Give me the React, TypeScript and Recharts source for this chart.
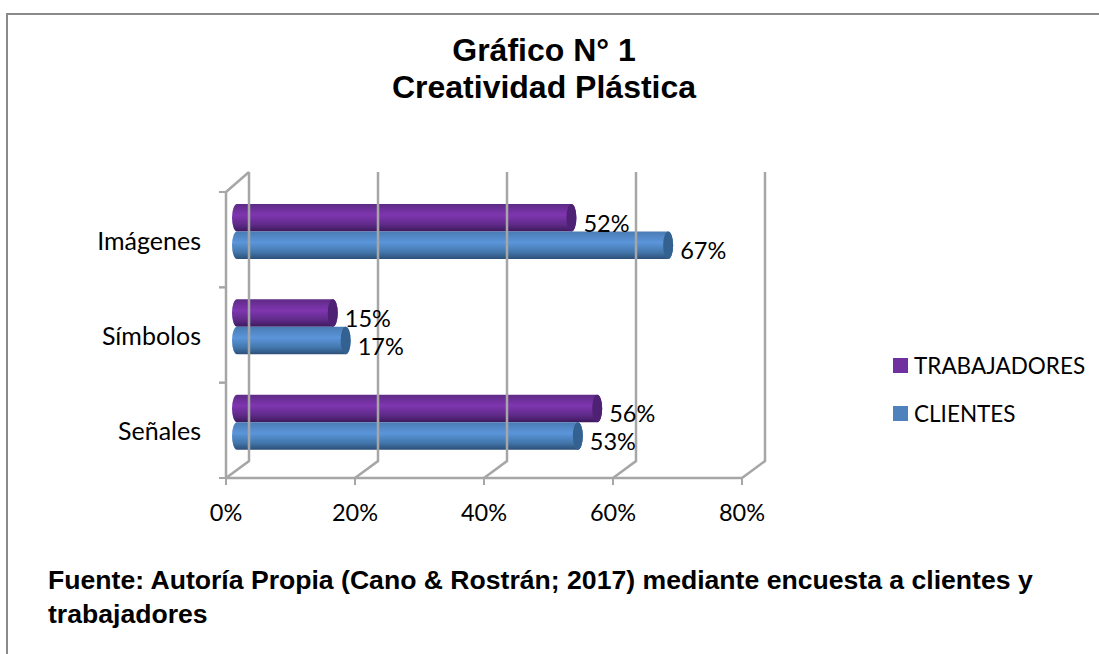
import React from 'react';
import { BarChart, Bar, XAxis, YAxis, Legend, LabelList } from 'recharts';

const categories = ['Imágenes', 'Símbolos', 'Señales'];
const trabajadores = [52, 15, 56];
const clientes = [67, 17, 53];
const xTicks = [0, 20, 40, 60, 80];

const data = categories.map((name, i) => ({
  name,
  TRABAJADORES: trabajadores[i],
  CLIENTES: clientes[i]
}));

const GRID = '#a6a6a6';
const LABEL_FONT = 'Lato, sans-serif';
const HEAD_FONT = '"Liberation Sans", Arial, sans-serif';
const BAND = 286 / 3;

// the fake 3d: back wall sits up and right of the front axis, bars sit half way in
const DEPTH_X = 23;
const DEPTH_Y = 17;
const BAR_DX = 6;
const BAR_DY = -8;
const CAP = 9;

const XTick = (props: any) => {
  const { x, y, payload } = props;
  return (
    <g>
      <line x1={x} y1={y} x2={x} y2={y + 7} stroke={GRID} strokeWidth={2} />
      <polyline
        points={`${x},${y} ${x + DEPTH_X},${y - DEPTH_Y} ${x + DEPTH_X},${192 - 20}`}
        fill="none"
        stroke={GRID}
        strokeWidth={2.5}
      />
      <text x={x} y={y + 43} textAnchor="middle" fontFamily={LABEL_FONT} fontSize={23.5} fill="#000">
        {payload.value}%
      </text>
    </g>
  );
};

const YTick = (props: any) => {
  const { x, y, payload, index } = props;
  return (
    <g>
      <line x1={x - 7} y1={y - BAND / 2} x2={x} y2={y - BAND / 2} stroke={GRID} strokeWidth={2} />
      <line x1={x - 7} y1={y + BAND / 2} x2={x} y2={y + BAND / 2} stroke={GRID} strokeWidth={2} />
      {index === 0 && (
        <line x1={x} y1={y - BAND / 2} x2={x + DEPTH_X} y2={y - BAND / 2 - 20} stroke={GRID} strokeWidth={2.5} />
      )}
      <text x={x - 25} y={y + 10} textAnchor="end" fontFamily={LABEL_FONT} fontSize={25} fill="#000">
        {payload.value}
      </text>
    </g>
  );
};

const Cylinder = (props: any) => {
  const { x, y, width, height, gradient, capColor } = props;
  const left = x + BAR_DX;
  const top = y + BAR_DY;
  const right = left + width + CAP;
  const rx = 5;
  const ry = height / 2;
  const body = `M${left + rx},${top} L${right - rx},${top} A${rx},${ry} 0 0 1 ${right - rx},${top + height} L${left + rx},${top + height} A${rx},${ry} 0 0 1 ${left + rx},${top} Z`;
  return (
    <g>
      <path d={body} fill={`url(#${gradient})`} />
      <ellipse cx={right - rx} cy={top + ry} rx={rx} ry={ry} fill={capColor} />
    </g>
  );
};

const BarValue = (props: any) => {
  const { x, y, width, height, value } = props;
  return (
    <text
      x={x + BAR_DX + width + CAP + 7}
      y={y + BAR_DY + height / 2 + 14}
      fontFamily={LABEL_FONT}
      fontSize={23.5}
      fill="#000"
    >
      {value}%
    </text>
  );
};

const LegendBox = (props: any) => (
  <div>
    {props.payload.map((p: any) => (
      <div key={p.value} style={{ display: 'flex', alignItems: 'center', height: 48, fontFamily: LABEL_FONT, fontSize: 22.5, color: '#000' }}>
        <span style={{ width: 15, height: 15, background: p.color, marginRight: 6 }} />
        {p.value}
      </div>
    ))}
  </div>
);

const App: React.FC = () => (
  <div style={{ position: 'absolute', left: 0, top: 0, width: 1099, height: 654, overflow: 'hidden', background: '#fff' }}>
    <div style={{ position: 'absolute', left: 6, top: 13, right: 0, bottom: 0, borderLeft: '2px solid #8a8a8a', borderTop: '2px solid #8a8a8a' }} />
    <div style={{ position: 'absolute', left: 0, width: 1088, top: 32, textAlign: 'center', fontFamily: HEAD_FONT, fontWeight: 'bold', fontSize: 32, lineHeight: '37px', color: '#000' }}>
      Gráfico N° 1
      <br />
      Creatividad Plástica
    </div>
    <BarChart
      width={1099}
      height={654}
      data={data}
      layout="vertical"
      barSize={27.5}
      barGap={0}
      margin={{ top: 192, right: 357, bottom: 116, left: 126 }}
      style={{ position: 'absolute', left: 0, top: 0 }}
    >
      <defs>
        <linearGradient id="gradPurple" x1="0" y1="0" x2="0" y2="1">
          <stop offset="0" stopColor="#5e2a86" />
          <stop offset="0.4" stopColor="#7f36b0" />
          <stop offset="0.75" stopColor="#5f2a88" />
          <stop offset="1" stopColor="#3d1a5c" />
        </linearGradient>
        <linearGradient id="gradBlue" x1="0" y1="0" x2="0" y2="1">
          <stop offset="0" stopColor="#4a7cb4" />
          <stop offset="0.4" stopColor="#5b95da" />
          <stop offset="0.75" stopColor="#4377ac" />
          <stop offset="1" stopColor="#2c4f78" />
        </linearGradient>
      </defs>
      <XAxis
        type="number"
        domain={[0, 80]}
        ticks={xTicks}
        interval={0}
        height={60}
        tickSize={0}
        tickMargin={0}
        tick={<XTick />}
        stroke={GRID}
        strokeWidth={2.5}
      />
      <YAxis
        type="category"
        dataKey="name"
        width={100}
        interval={0}
        tickSize={0}
        tickMargin={0}
        tick={<YTick />}
        stroke={GRID}
        strokeWidth={2.5}
      />
      <Legend
        layout="horizontal"
        align="center"
        verticalAlign="middle"
        itemSorter={null}
        content={<LegendBox />}
        wrapperStyle={{ position: 'absolute', left: 893, top: 341, width: 200 }}
      />
      <Bar dataKey="TRABAJADORES" fill="#7030a0" isAnimationActive={false} shape={<Cylinder gradient="gradPurple" capColor="#4f2174" />}>
        <LabelList dataKey="TRABAJADORES" content={<BarValue />} />
      </Bar>
      <Bar dataKey="CLIENTES" fill="#4f81bd" isAnimationActive={false} shape={<Cylinder gradient="gradBlue" capColor="#346290" />}>
        <LabelList dataKey="CLIENTES" content={<BarValue />} />
      </Bar>
    </BarChart>
    <div style={{ position: 'absolute', left: 48, top: 563, width: 1040, fontFamily: HEAD_FONT, fontWeight: 'bold', fontSize: 26.6, lineHeight: '34px', color: '#000' }}>
      Fuente: Autoría Propia (Cano &amp; Rostrán; 2017) mediante encuesta a clientes y
      <br />
      trabajadores
    </div>
  </div>
);

export default App;
